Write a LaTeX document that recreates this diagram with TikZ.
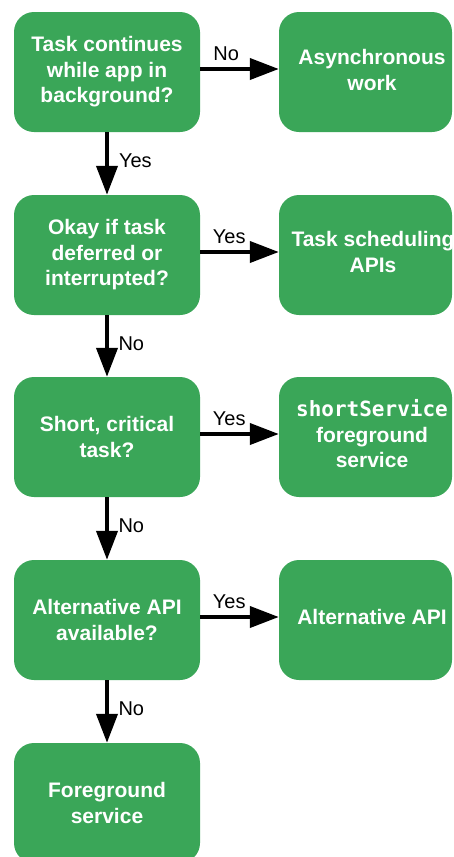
\documentclass[tikz,border=0pt]{standalone}
\usepackage{fontspec}
\setmainfont{Liberation Sans}
\newfontfamily\codefont{DejaVu Sans Mono}
\usetikzlibrary{arrows.meta}
\definecolor{boxgreen}{RGB}{58,166,88}
\begin{document}
\begin{tikzpicture}[x=1pt,y=-1pt,
  box/.style={fill=boxgreen, draw=none, rounded corners=20pt, minimum height=120pt, inner sep=0pt},
  lbox/.style={box, minimum width=186pt},
  rbox/.style={box, minimum width=173pt},
  btext/.style={text=white, font=\fontsize{21}{25.5}\selectfont\bfseries, align=center, inner sep=0pt},
  flow/.style={line width=4pt, -{Triangle[length=29pt,width=21pt]}},
  elabel/.style={font=\fontsize{20}{24}\selectfont, inner sep=0pt, text=black}
]
\useasboundingbox (0,0) rectangle (453,857);
\clip (0,0) rectangle (453,857);

% left column
\node[lbox, btext] (q1) at (107,72) {Task continues\\while app in\\background?};
\node[lbox, btext] (q2) at (107,255) {Okay if task\\deferred or\\interrupted?};
\node[lbox, btext] (q3) at (107,437) {Short, critical\\task?};
\node[lbox, btext] (q4) at (107,620) {Alternative API\\available?};
\node[lbox, btext] (q5) at (107,803) {Foreground\\service};

% right column
\node[rbox] (a1) at (365.5,72) {};
\node[btext] (t1) at (372,70) {Asynchronous\\work};
\node[rbox] (a2) at (365.5,255) {};
\node[btext] (t2) at (373,252) {Task scheduling\\APIs};
\node[rbox] (a3) at (365.5,437) {};
\node[btext] (t3) at (372,434) {{\codefont shortService}\\foreground\\service};
\node[rbox] (a4) at (365.5,620) {};
\node[btext] (t4) at (372,617) {Alternative API};

% horizontal connectors
\draw[flow] ([yshift=3pt]q1.east) -- ([yshift=3pt]a1.west)
  node[elabel, pos=0.33, above=6.5pt] {No};
\draw[flow] ([yshift=3pt]q2.east) -- ([yshift=3pt]a2.west)
  node[elabel, pos=0.37, above=6.5pt] {Yes};
\draw[flow] ([yshift=3pt]q3.east) -- ([yshift=3pt]a3.west)
  node[elabel, pos=0.37, above=6.5pt] {Yes};
\draw[flow] ([yshift=3pt]q4.east) -- ([yshift=3pt]a4.west)
  node[elabel, pos=0.37, above=6.5pt] {Yes};

% vertical connectors
\draw[flow] (q1.south) -- (q2.north) node[elabel, pos=0.46, right=10pt] {Yes};
\draw[flow] (q2.south) -- (q3.north) node[elabel, pos=0.46, right=9.5pt] {No};
\draw[flow] (q3.south) -- (q4.north) node[elabel, pos=0.46, right=9.5pt] {No};
\draw[flow] (q4.south) -- (q5.north) node[elabel, pos=0.46, right=9.5pt] {No};
\end{tikzpicture}
\end{document}
